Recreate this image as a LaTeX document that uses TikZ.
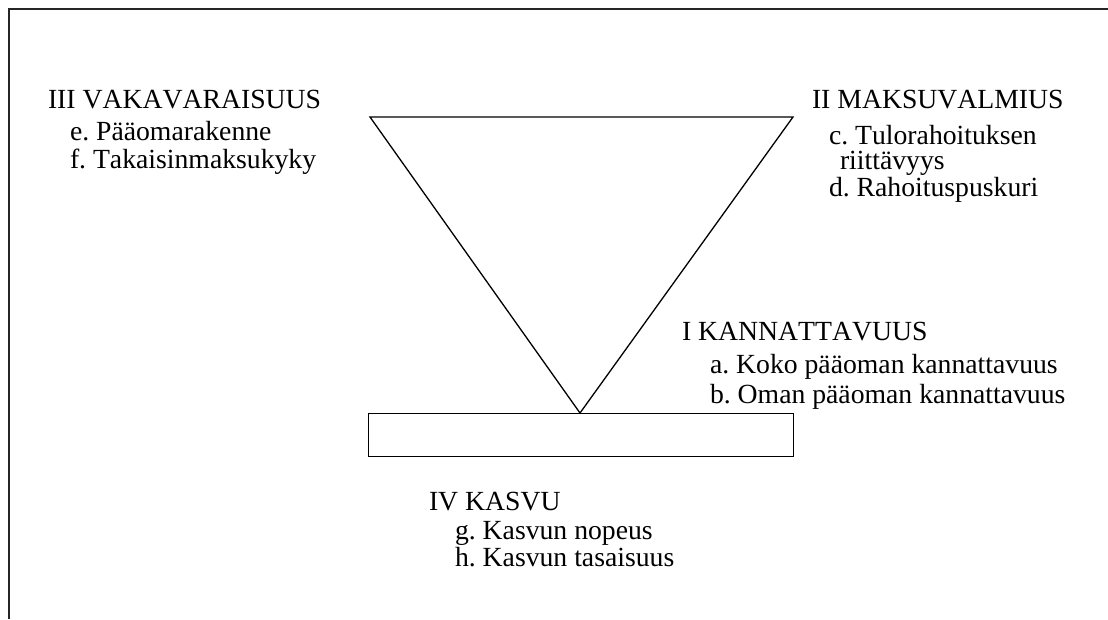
\documentclass[tikz,border=0pt]{standalone}
\usepackage{fontspec}
\setmainfont[Kerning=Off]{Liberation Serif}
\frenchspacing
\begin{document}
\begin{tikzpicture}[x=1pt,y=-1pt,
  txt/.style={anchor=base west,inner sep=0pt,outer sep=0pt,font=\fontsize{27.7}{31}\selectfont},
  outline/.style={draw=black,line width=1.3pt},
  frame/.style={draw=black!85,line width=2pt}]
\useasboundingbox (0,0) rectangle (1108,619);
% open frame (top and left edges)
\draw[frame] (9,619) -- (9,9) -- (1108,9);
% inverted triangle and base bar
\coordinate (tl) at (370,117);
\coordinate (tr) at (793,117);
\coordinate (tb) at (580,413);
\draw[outline,line join=miter] (tl) -- (tr) -- (tb) -- cycle;
\node[outline,minimum width=425pt,minimum height=43pt,inner sep=0pt,anchor=north west] (bar) at (368,413) {};
% III
\node[txt] (h3) at (48,108) {III VAKAVARAISUUS};
\node[txt] (e)  at (70,140) {e. Pääomarakenne};
\node[txt] (f)  at (70,168) {f. Takaisinmaksukyky};
% II
\node[txt] (h2) at (812,108) {II MAKSUVALMIUS};
\node[txt] (c)  at (829,144) {c. Tulorahoituksen};
\node[txt] (c2) at (840,169) {riittävyys};
\node[txt] (d)  at (829,196) {d. Rahoituspuskuri};
% I
\node[txt] (h1) at (682,340) {I KANNATTAVUUS};
\node[txt] (a)  at (710,373) {a. Koko pääoman kannattavuus};
\node[txt] (b)  at (710,403) {b. Oman pääoman kannattavuus};
% IV
\node[txt] (h4) at (429,510) {IV KASVU};
\node[txt] (g)  at (455,539) {g. Kasvun nopeus};
\node[txt] (h)  at (455,566) {h. Kasvun tasaisuus};
\end{tikzpicture}
\end{document}
